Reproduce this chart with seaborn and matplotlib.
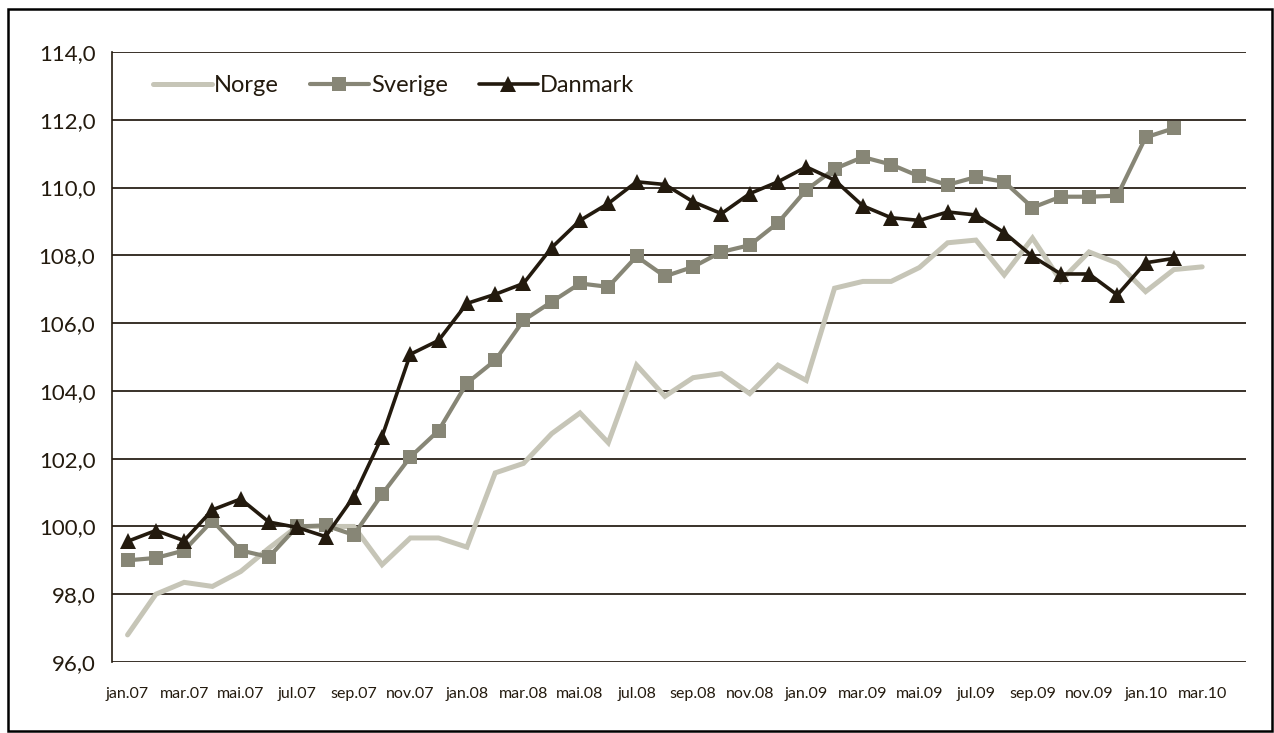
import matplotlib
matplotlib.use("Agg")
import matplotlib.pyplot as plt
import seaborn as sns
import pandas as pd
from matplotlib.patches import Rectangle

# monthly index, jan.07 - mar.10
months = ["jan.07", "feb.07", "mar.07", "apr.07", "mai.07", "jun.07", "jul.07", "aug.07",
          "sep.07", "okt.07", "nov.07", "des.07",
          "jan.08", "feb.08", "mar.08", "apr.08", "mai.08", "jun.08", "jul.08", "aug.08",
          "sep.08", "okt.08", "nov.08", "des.08",
          "jan.09", "feb.09", "mar.09", "apr.09", "mai.09", "jun.09", "jul.09", "aug.09",
          "sep.09", "okt.09", "nov.09", "des.09",
          "jan.10", "feb.10", "mar.10"]

norge = [96.8, 98.0, 98.35, 98.23, 98.67, 99.36, 100.0, 100.0, 100.0, 98.87, 99.66, 99.66,
         99.39, 101.58, 101.86, 102.74, 103.35, 102.47, 104.76, 103.84, 104.39, 104.51, 103.92, 104.76,
         104.31, 107.03, 107.23, 107.23, 107.64, 108.37, 108.45, 107.42, 108.51, 107.25, 108.1, 107.77,
         106.93, 107.58, 107.66]
sverige = [99.0, 99.07, 99.29, 100.17, 99.29, 99.1, 100.0, 100.03, 99.75, 100.95, 102.05, 102.83,
           104.23, 104.9, 106.08, 106.63, 107.17, 107.07, 107.97, 107.38, 107.66, 108.1, 108.3, 108.96,
           109.93, 110.55, 110.9, 110.68, 110.33, 110.08, 110.31, 110.17, 109.41, 109.73, 109.73, 109.76,
           111.48, 111.75]
danmark = [99.56, 99.88, 99.58, 100.49, 100.81, 100.13, 99.97, 99.7, 100.88, 102.65, 105.08, 105.49,
           106.58, 106.85, 107.17, 108.23, 109.03, 109.53, 110.17, 110.09, 109.58, 109.23, 109.82, 110.17,
           110.61, 110.22, 109.46, 109.11, 109.03, 109.28, 109.19, 108.67, 107.97, 107.45, 107.45, 106.83,
           107.78, 107.91]

series = {"Norge": norge, "Sverige": sverige, "Danmark": danmark}
colors = {"Norge": "#c6c5b7", "Sverige": "#878676", "Danmark": "#231a0e"}
markers = {"Norge": None, "Sverige": "s", "Danmark": "^"}
widths = {"Norge": 3.6, "Sverige": 3.0, "Danmark": 2.6}

rows = []
for name, vals in series.items():
    for i, v in enumerate(vals):
        rows.append({"idx": i, "value": v, "land": name})
df = pd.DataFrame(rows)

sns.set_style("white")
plt.rcParams["font.family"] = ["Lato", "DejaVu Sans"]

fig = plt.figure(figsize=(12.74, 7.33), dpi=100)
ax = fig.add_axes([112 / 1274, 1 - 662 / 733, (1246 - 112) / 1274, (662 - 52) / 733])

for name in series:
    sns.lineplot(data=df[df.land == name], x="idx", y="value", ax=ax, label=name,
                 color=colors[name], lw=widths[name], marker=markers[name],
                 markersize=10 if name == "Sverige" else 11, markeredgewidth=0,
                 solid_joinstyle="miter")

ax.set_xlim(-0.55, 39.55)
ax.set_ylim(96, 114)
ax.set_yticks(range(96, 115, 2))
ax.set_yticklabels([f"{v},0" for v in range(96, 115, 2)], fontsize=16, color="#231a0e")
ax.set_xticks(range(0, len(months), 2))
ax.set_xticklabels(months[::2], fontsize=11.5, color="#231a0e")
ax.tick_params(axis="both", length=0)
ax.tick_params(axis="y", pad=12)
ax.tick_params(axis="x", pad=18)
ax.set_xlabel("")
ax.set_ylabel("")
ax.yaxis.grid(True, color="#2a2118", lw=1.3)
ax.xaxis.grid(False)
for s in ["top", "right", "bottom"]:
    ax.spines[s].set_visible(False)
ax.spines["left"].set_color("#231a0e")
ax.spines["left"].set_linewidth(1.2)

leg = ax.legend(loc="center left", bbox_to_anchor=(0.036, 0.945), ncol=3, frameon=False,
                fontsize=17, handlelength=2.5, handletextpad=0.1, columnspacing=1.3,
                borderpad=0, borderaxespad=0, labelcolor="#231a0e")

fig.patches.append(Rectangle((8 / 1274, 2 / 733), 1264 / 1274, 722 / 733,
                             transform=fig.transFigure, fill=False, lw=1.8,
                             edgecolor="black"))

fig.savefig("out.png", dpi=100)
